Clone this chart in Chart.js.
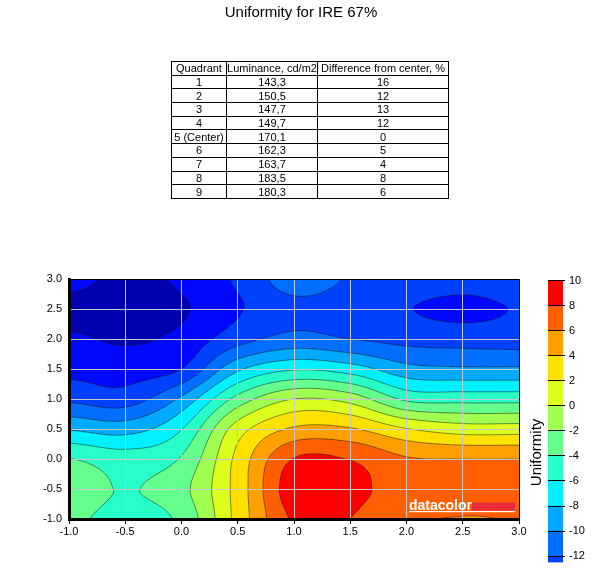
<!DOCTYPE html>
<html>
<head>
<meta charset="utf-8">
<script src="https://cdn.jsdelivr.net/npm/chart.js@4.4.1/dist/chart.umd.min.js"></script>
<style>
  html, body { margin: 0; padding: 0; background: #fff; }
  body { width: 602px; height: 573px; position: relative; overflow: hidden; font-family: "Liberation Sans", Arial, sans-serif; }
  #main { position: absolute; left: 0; top: 0; }
  #scale { position: absolute; left: 520px; top: 270px; }
  #tbl { position: absolute; left: 171px; top: 61px; border-collapse: collapse; font-size: 11px; color: #000; }
  #tbl td { border: 1px solid #000; text-align: center; padding: 0; height: 12.7px; line-height: 12px; white-space: nowrap; }
</style>
</head>
<body>
<canvas id="main" width="602" height="573"></canvas>
<table id="tbl"></table>
<canvas id="scale" width="82" height="303"></canvas>
<script>
// table
const headers = ['Quadrant', 'Luminance, cd/m2', 'Difference from center, %'];
const quadrants = ['1', '2', '3', '4', '5 (Center)', '6', '7', '8', '9'];
const luminance = [143.3, 150.5, 147.7, 149.7, 170.1, 162.3, 163.7, 183.5, 180.3];
const differences = [16, 12, 13, 12, 0, 5, 4, 8, 6];

// uniformity surface, one row per y (top to bottom)
const gridX = [-1, -0.5, 0, 0.5, 1, 1.5, 2, 2.5, 3];
const gridY = [3, 2.5, 2, 1.5, 1, 0.5, 0, -0.5, -1];
const uniformity = [
    [-15.0, -16.8, -15.6, -13.7, -11.0, -12.2, -12.8, -13.2, -12.8],
    [-17.0, -17.8, -16.3, -14.2, -12.6, -13.0, -13.9, -14.5, -13.9],
    [-15.6, -16.3, -15.4, -12.8, -11.3, -12.0, -12.6, -12.8, -12.9],
    [-14.6, -14.9, -14.0, -8.4, -6.2, -7.0, -9.3, -9.7, -9.7],
    [-12.4, -13.0, -9.6, -3.3, 0.0, -0.8, -4.4, -4.7, -4.7],
    [-8.2, -8.8, -6.1, 1.0, 4.3, 4.2, 2.1, 1.0, 1.0],
    [-3.95, -5.0, -3.8, 2.6, 8.1, 7.9, 6.2, 6.0, 6.0],
    [-2.9, -4.1, -2.6, 2.8, 9.2, 8.6, 7.0, 6.8, 6.8],
    [-3.6, -4.6, -3.5, 2.7, 8.3, 8.0, 6.3, 5.95, 6.05]
];

// contour levels and the colour of each band (below first level ... above last)
const levels = [-16, -14, -12, -10, -8, -6, -4, -2, 0, 2, 4, 6, 8];
const bandColors = ['#0000b0', '#0008ff', '#0040ff', '#006eff', '#00aaff', '#00f0ff', '#28ffc8',
                    '#64ff8c', '#a0ff50', '#dcff1e', '#ffe100', '#ffa000', '#ff5f00', '#ff0000'];

const axisTicks = [-1, -0.5, 0, 0.5, 1, 1.5, 2, 2.5, 3];
const colorbarTicks = [-12, -10, -8, -6, -4, -2, 0, 2, 4, 6, 8, 10];
const colorbarMin = -12.5;
const colorbarMax = 10;
const colorbarTitle = 'Uniformity';

const FONT = "'Liberation Sans', Arial, sans-serif";

// build the table
const tbl = document.getElementById('tbl');
let html = '<tr>' + headers.map((h, i) => `<td style="width:${[54, 90, 130][i]}px">${h}</td>`).join('') + '</tr>';
for (let i = 0; i < quadrants.length; i++) {
    html += `<tr><td>${quadrants[i]}</td><td>${luminance[i].toFixed(1).replace('.', ',')}</td><td>${differences[i]}</td></tr>`;
}
tbl.innerHTML = html;

function rgb(hex) {
    return [parseInt(hex.slice(1, 3), 16), parseInt(hex.slice(3, 5), 16), parseInt(hex.slice(5, 7), 16)];
}
const bandRgb = bandColors.map(rgb);

function bandIndex(z) {
    let k = 0;
    while (k < levels.length && z >= levels[k]) k++;
    return k;
}

// catmull-rom between grid samples
function cr(p0, p1, p2, p3, t) {
    return p1 + 0.5 * t * (p2 - p0 + t * (2 * p0 - 5 * p1 + 4 * p2 - p3 + t * (3 * (p1 - p2) + p3 - p0)));
}
function zAt(rows, xv, yv) {
    const step = gridX[1] - gridX[0];
    const nx = gridX.length, ny = gridY.length;
    let u = (xv - gridX[0]) / step;
    let v = (gridY[0] - yv) / step;
    u = Math.min(Math.max(u, 0), nx - 1);
    v = Math.min(Math.max(v, 0), ny - 1);
    let i = Math.min(Math.floor(u), nx - 2), j = Math.min(Math.floor(v), ny - 2);
    const tu = u - i, tv = v - j;
    const cx = k => Math.min(Math.max(k, 0), nx - 1);
    const cy = k => Math.min(Math.max(k, 0), ny - 1);
    const col = [];
    for (let m = -1; m <= 2; m++) {
        const r = rows[cy(j + m)];
        col.push(cr(r[cx(i - 1)], r[cx(i)], r[cx(i + 1)], r[cx(i + 2)], tu));
    }
    return cr(col[0], col[1], col[2], col[3], tv);
}

const contourPlugin = {
    id: 'contourFill',
    beforeDraw(chart) {
        const ctx = chart.ctx;
        const a = chart.chartArea;
        const xs = chart.scales.x, ys = chart.scales.y;
        const rows = chart.data.datasets[0].grid;
        const left = Math.round(a.left), top = Math.round(a.top);
        const w = Math.round(a.right) - left, h = Math.round(a.bottom) - top;

        // z at pixel corners
        const Z = new Float32Array((w + 1) * (h + 1));
        const xv = [], yv = [];
        for (let i = 0; i <= w; i++) xv.push(xs.getValueForPixel(left + i));
        for (let j = 0; j <= h; j++) yv.push(ys.getValueForPixel(top + j));
        for (let j = 0; j <= h; j++) {
            for (let i = 0; i <= w; i++) Z[j * (w + 1) + i] = zAt(rows, xv[i], yv[j]);
        }

        const img = ctx.createImageData(w, h);
        for (let j = 0; j < h; j++) {
            const yc = ys.getValueForPixel(top + j + 0.5);
            for (let i = 0; i < w; i++) {
                const z = zAt(rows, xs.getValueForPixel(left + i + 0.5), yc);
                const c = bandRgb[bandIndex(z)];
                const p = (j * w + i) * 4;
                img.data[p] = c[0]; img.data[p + 1] = c[1]; img.data[p + 2] = c[2]; img.data[p + 3] = 255;
            }
        }
        ctx.putImageData(img, left, top);

        // contour lines, marching squares on the pixel corners
        ctx.save();
        ctx.beginPath();
        ctx.rect(left, top, w, h);
        ctx.clip();
        ctx.strokeStyle = 'rgba(20,20,20,0.55)';
        ctx.lineWidth = 0.9;
        const W = w + 1;
        for (const L of levels) {
            ctx.beginPath();
            for (let j = 0; j < h; j++) {
                for (let i = 0; i < w; i++) {
                    const za = Z[j * W + i], zb = Z[j * W + i + 1];
                    const zc = Z[(j + 1) * W + i + 1], zd = Z[(j + 1) * W + i];
                    const pts = [];
                    if ((za >= L) !== (zb >= L)) pts.push([i + (L - za) / (zb - za), j]);
                    if ((zb >= L) !== (zc >= L)) pts.push([i + 1, j + (L - zb) / (zc - zb)]);
                    if ((zd >= L) !== (zc >= L)) pts.push([i + (L - zd) / (zc - zd), j + 1]);
                    if ((za >= L) !== (zd >= L)) pts.push([i, j + (L - za) / (zd - za)]);
                    for (let k = 0; k + 1 < pts.length; k += 2) {
                        ctx.moveTo(left + pts[k][0], top + pts[k][1]);
                        ctx.lineTo(left + pts[k + 1][0], top + pts[k + 1][1]);
                    }
                }
            }
            ctx.stroke();
        }
        ctx.restore();
    },
    afterDraw(chart) {
        const ctx = chart.ctx;
        const a = chart.chartArea;
        ctx.save();
        // thin frame on top and right
        ctx.strokeStyle = '#000';
        ctx.lineWidth = 1;
        ctx.beginPath();
        ctx.moveTo(Math.round(a.left) + 0.5, Math.round(a.top) + 0.5);
        ctx.lineTo(Math.round(a.right) + 0.5, Math.round(a.top) + 0.5);
        ctx.lineTo(Math.round(a.right) + 0.5, Math.round(a.bottom));
        ctx.stroke();
        // datacolor logo
        ctx.fillStyle = '#ea2e3c';
        ctx.fillRect(a.right - 47, a.bottom - 16.5, 43, 8);
        ctx.fillStyle = '#fff';
        ctx.font = 'bold 14px ' + FONT;
        ctx.textBaseline = 'alphabetic';
        ctx.fillText('datacolor', a.right - 110, a.bottom - 9);
        ctx.fillRect(a.right - 110, a.bottom - 8, 106, 1.2);
        ctx.restore();
    }
};

const cells = [];
for (let j = 0; j < gridY.length; j++) {
    for (let i = 0; i < gridX.length; i++) cells.push({ x: gridX[i], y: gridY[j], z: uniformity[j][i] });
}

const fmt = v => Number(v).toFixed(1);

new Chart(document.getElementById('main'), {
    type: 'scatter',
    data: {
        datasets: [{
            data: cells,
            grid: uniformity,
            pointRadius: 0,
            pointHoverRadius: 0
        }]
    },
    options: {
        responsive: false,
        devicePixelRatio: 1,
        animation: false,
        events: [],
        layout: { padding: 0 },
        scales: {
            x: {
                type: 'linear', min: -1, max: 3,
                afterBuildTicks: s => { s.ticks = axisTicks.map(v => ({ value: v })); },
                afterFit: s => { s.height = 54; },
                ticks: { callback: fmt, color: '#000', font: { size: 11, family: FONT }, padding: 1, maxRotation: 0, autoSkip: false },
                grid: { color: '#c8c8c8', tickColor: '#000', tickLength: 5, lineWidth: 1 },
                border: { color: '#000', width: 3 }
            },
            y: {
                type: 'linear', min: -1, max: 3,
                afterBuildTicks: s => { s.ticks = axisTicks.map(v => ({ value: v })); },
                afterFit: s => { s.width = 69; },
                ticks: { callback: fmt, color: '#000', font: { size: 11, family: FONT }, padding: 7, autoSkip: false },
                grid: { color: '#c8c8c8', drawTicks: false, lineWidth: 1 },
                border: { color: '#000', width: 3 }
            },
            // empty strip on the right that leaves room for the colour scale
            yRoom: {
                type: 'linear', position: 'right', min: -1, max: 3,
                afterFit: s => { s.width = 83; },
                ticks: { display: false },
                grid: { display: false },
                border: { display: false }
            }
        },
        plugins: {
            legend: { display: false },
            tooltip: { enabled: false },
            title: {
                display: true,
                text: 'Uniformity for IRE 67%',
                color: '#000',
                font: { size: 15, weight: 'normal', family: FONT },
                padding: { top: 4, bottom: 257 }
            }
        }
    },
    plugins: [contourPlugin]
});

// colour scale
const scaleBands = [];
for (let k = 0; k < bandColors.length; k++) {
    const lo = Math.max(k === 0 ? -Infinity : levels[k - 1], colorbarMin);
    const hi = Math.min(k === levels.length ? Infinity : levels[k], colorbarMax);
    if (hi > lo) scaleBands.push({ lo: lo, hi: hi, color: bandColors[k] });
}

const scaleCaption = {
    id: 'scaleCaption',
    afterDraw(chart) {
        const ctx = chart.ctx;
        const a = chart.chartArea;
        ctx.save();
        ctx.translate(a.left - 11, a.bottom - 110);
        ctx.rotate(-Math.PI / 2);
        ctx.fillStyle = '#000';
        ctx.font = '15px ' + FONT;
        ctx.textAlign = 'center';
        ctx.textBaseline = 'middle';
        ctx.fillText(colorbarTitle, 0, 0);
        ctx.restore();
    }
};

new Chart(document.getElementById('scale'), {
    type: 'bar',
    data: {
        labels: [''],
        datasets: scaleBands.map(b => ({
            data: [[b.lo, b.hi]],
            backgroundColor: b.color,
            borderWidth: 0,
            barPercentage: 1,
            categoryPercentage: 1,
            grouped: false
        }))
    },
    options: {
        responsive: false,
        devicePixelRatio: 1,
        animation: false,
        events: [],
        layout: { padding: { left: 28, right: 0, top: 9, bottom: 5 } },
        scales: {
            x: { display: false },
            y: {
                position: 'right', min: colorbarMin, max: colorbarMax,
                afterBuildTicks: s => { s.ticks = colorbarTicks.map(v => ({ value: v })); },
                afterFit: s => { s.width = 39; },
                ticks: { color: '#000', font: { size: 11, family: FONT }, padding: 4 },
                grid: { color: '#000', z: 1, tickLength: 2 },
                border: { display: false }
            }
        },
        plugins: { legend: { display: false }, tooltip: { enabled: false } }
    },
    plugins: [scaleCaption]
});
</script>
</body>
</html>
